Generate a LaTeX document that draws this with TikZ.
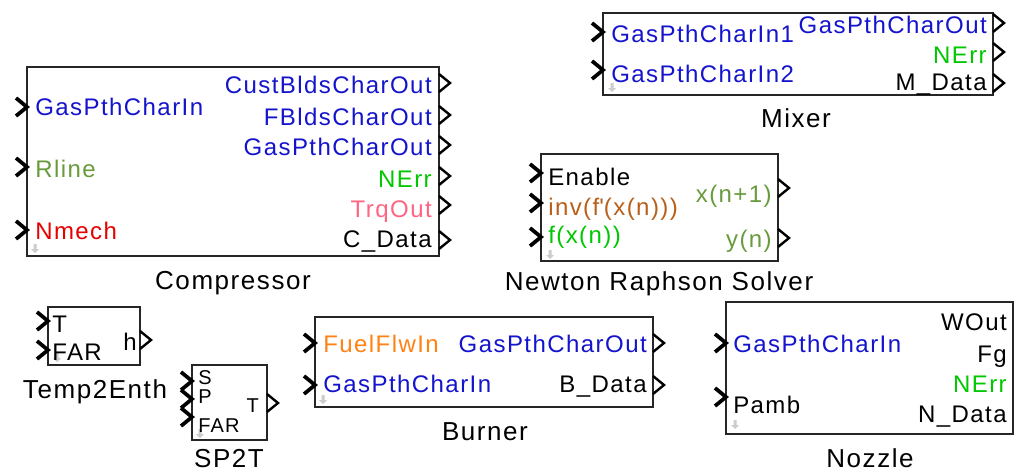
\documentclass[tikz,border=0pt]{standalone}
\usepackage{fontspec}
\setmainfont{Liberation Sans}[LetterSpace=6]
\usetikzlibrary{fit}

\definecolor{pblue}{RGB}{20,20,205}
\definecolor{pgreen}{RGB}{0,200,0}
\definecolor{polive}{RGB}{105,155,60}
\definecolor{pred}{RGB}{230,0,0}
\definecolor{ppink}{RGB}{255,100,130}
\definecolor{pbrown}{RGB}{185,95,25}
\definecolor{porange}{RGB}{255,130,20}

\tikzset{
  blk/.style={draw=black!85, line width=1.3pt, fill=white, inner sep=0pt},
  lin/.style={anchor=base west, inner sep=0pt, font=\fontsize{18}{20}\selectfont},
  lout/.style={anchor=base east, inner sep=0pt, font=\fontsize{18}{20}\selectfont},
  small/.style={font=\fontsize{15}{16}\selectfont},
  ttl/.style={anchor=base, inner sep=0pt, font=\fontsize{19.5}{22}\selectfont},
  pin/.style={line width=2.8pt, line join=miter},
  pout/.style={line width=1.8pt, line join=miter},
}
\newcommand{\inport}[2]{\draw[pin] (#1-11,#2-9) -- (#1,#2) -- (#1-11,#2+9);}
\newcommand{\outport}[2]{\draw[pout] (#1,#2-9) -- (#1+11,#2) -- (#1,#2+9);}
\newcommand{\drop}[2]{\fill[gray!40] (#1-1.5,#2-5) rectangle (#1+1.5,#2) (#1-4,#2) -- (#1+4,#2) -- (#1,#2+4) -- cycle;}

\begin{document}
\begin{tikzpicture}[x=0.75pt,y=0.75pt,yscale=-1,xscale=1]
\useasboundingbox (0,0) rectangle (1015,475);

% Compressor
\node[blk, fit={(27,67) (439,256)}] (comp) {};
\inport{27}{107} \inport{27}{167} \inport{27}{230}
\outport{439}{83} \outport{439}{115} \outport{439}{145}
\outport{439}{176} \outport{439}{205} \outport{439}{240}
\drop{35}{249}
\node[lin, pblue] (compin) at (35,115) {GasPthCharIn};
\node[lin, polive] (comprl) at (35,177) {Rline};
\node[lin, pred] (compnm) at (35,239) {Nmech};
\node[lout, pblue] (compcb) at (432,93) {CustBldsCharOut};
\node[lout, pblue] (compfb) at (432,125) {FBldsCharOut};
\node[lout, pblue] (compout) at (432,155) {GasPthCharOut};
\node[lout, pgreen] (comperr) at (432,187) {NErr};
\node[lout, ppink] (comptrq) at (432,217) {TrqOut};
\node[lout] (compdat) at (432,247) {C\_Data};
\node[ttl] (compname) at (233,289) {Compressor};

% Mixer
\node[blk, fit={(603,13) (993,95)}] (mix) {};
\inport{603}{32} \inport{603}{70}
\outport{993}{23} \outport{993}{52} \outport{993}{83}
\drop{612}{88}
\node[lin, pblue] (mixin1) at (611,42) {GasPthCharIn1};
\node[lin, pblue] (mixin2) at (611,82) {GasPthCharIn2};
\node[lout, pblue] (mixout) at (987,33) {GasPthCharOut};
\node[lout, pgreen] (mixerr) at (987,63) {NErr};
\node[lout] (mixdat) at (987,90) {M\_Data};
\node[ttl] (mixname) at (796,127) {Mixer};

% Newton Raphson Solver
\node[blk, fit={(541,154) (778,261)}] (nrs) {};
\inport{541}{173} \inport{541}{203} \inport{541}{237}
\outport{778}{188} \outport{778}{238}
\drop{550}{255}
\node[lin] (nrsen) at (548,185) {Enable};
\node[lin, pbrown] (nrsinv) at (548,215) {inv(f\textquotesingle(x(n)))};
\node[lin, pgreen] (nrsf) at (548,243) {f(x(n))};
\node[lout, polive] (nrsx) at (772,202) {x(n+1)};
\node[lout, polive] (nrsy) at (772,247) {y(n)};
\node[ttl] (nrsname) at (659,290) {Newton Raphson Solver};

% Temp2Enth
\node[blk, fit={(48,307) (140,365)}] (t2h) {};
\inport{48}{321} \inport{48}{350}
\outport{140}{340}
\drop{57}{358}
\node[lin] (t2ht) at (52,332) {T};
\node[lin] (t2hfar) at (52,360) {FAR};
\node[lout] (t2hh) at (137,350) {h};
\node[ttl] (t2hname) at (95,398) {Temp2Enth};

% SP2T
\node[blk, fit={(192,365) (267,440)}] (sp2t) {};
\inport{192}{381} \inport{192}{399} \inport{192}{417}
\outport{267}{403}
\drop{200}{434}
\node[lin, small] (sp2ts) at (198,384) {S};
\node[lin, small] (sp2tp) at (198,403) {P};
\node[lin, small] (sp2tfar) at (198,432) {FAR};
\node[lout, small] (sp2tt) at (259,412) {T};
\node[ttl] (sp2tname) at (229,467) {SP2T};

% Burner
\node[blk, fit={(315,317) (653,407)}] (burn) {};
\inport{315}{343} \inport{315}{385}
\outport{653}{343} \outport{653}{385}
\drop{323}{400}
\node[lin, porange] (burnfuel) at (323,352) {FuelFlwIn};
\node[lin, pblue] (burnin) at (323,392) {GasPthCharIn};
\node[lout, pblue] (burnout) at (647,352) {GasPthCharOut};
\node[lout] (burndat) at (647,392) {B\_Data};
\node[ttl] (burnname) at (485,440) {Burner};

% Nozzle
\node[blk, fit={(726,302) (1013,434)}] (noz) {};
\inport{726}{343} \inport{726}{397}
\drop{735}{425}
\node[lin, pblue] (nozin) at (733,352) {GasPthCharIn};
\node[lin] (nozpamb) at (733,413) {Pamb};
\node[lout] (nozw) at (1007,330) {WOut};
\node[lout] (nozfg) at (1007,362) {Fg};
\node[lout, pgreen] (nozerr) at (1007,392) {NErr};
\node[lout] (nozdat) at (1007,422) {N\_Data};
\node[ttl] (nozname) at (870,467) {Nozzle};
\end{tikzpicture}
\end{document}
